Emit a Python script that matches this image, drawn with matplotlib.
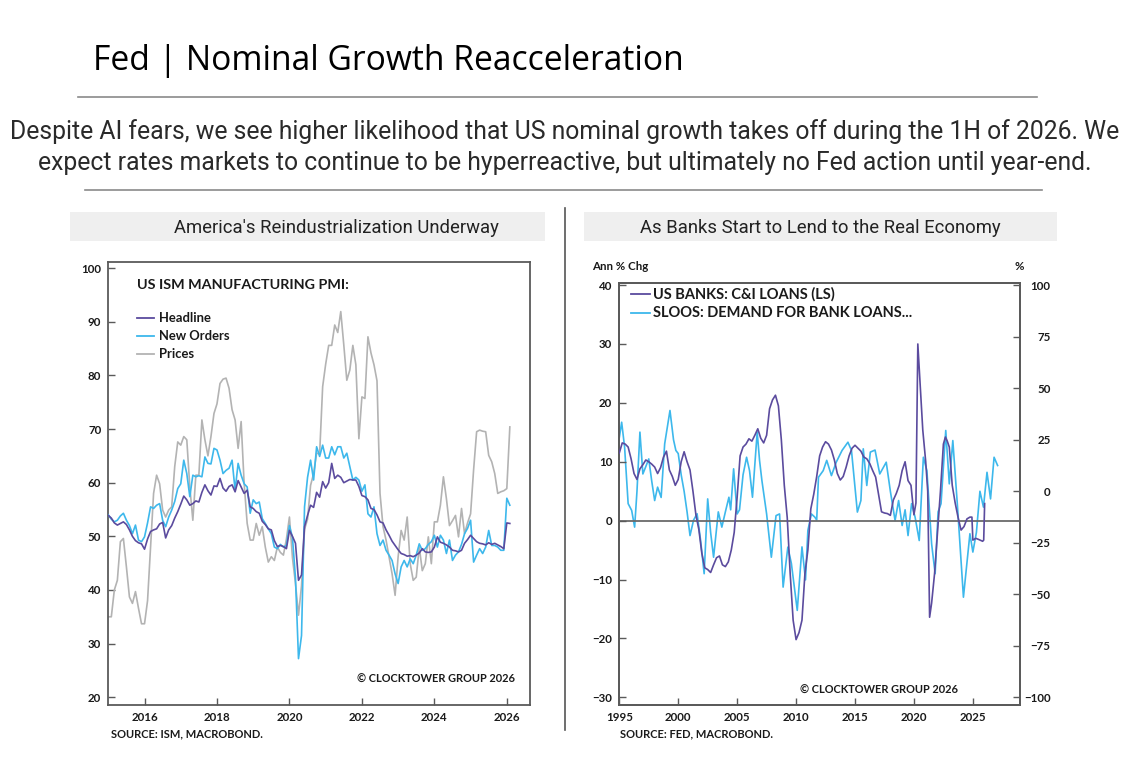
import numpy as np
import matplotlib
matplotlib.use("Agg")
import matplotlib.pyplot as plt
from matplotlib.lines import Line2D
from matplotlib.patches import Rectangle

# ---------------- DATA ----------------
# Left chart: US ISM Manufacturing PMI, monthly Jan 2015 - Feb 2026
ism_start_year = 2015
headline = [
    53.9, 53.4, 52.5, 52.1, 52.4, 52.7, 52.2, 51.2, 50.0, 49.2, 48.8, 48.6,   # 2015
    47.6, 49.5, 50.9, 51.2, 51.4, 52.3, 52.6, 49.7, 51.2, 52.0, 53.4, 54.6,   # 2016
    56.0, 57.5, 56.8, 55.8, 56.1, 56.6, 56.4, 58.2, 59.6, 58.5, 57.7, 59.4,   # 2017
    59.3, 60.8, 59.0, 58.4, 59.3, 59.6, 58.3, 60.4, 59.2, 58.0, 58.6, 55.5,   # 2018
    55.2, 54.6, 54.3, 52.8, 52.2, 51.4, 51.2, 49.2, 48.1, 48.3, 48.1, 47.7,   # 2019
    51.1, 50.0, 48.7, 41.8, 42.8, 51.8, 53.9, 55.8, 55.4, 58.2, 57.3, 60.2,   # 2020
    59.0, 60.0, 63.6, 60.8, 61.4, 61.0, 60.0, 60.3, 60.6, 60.5, 60.5, 59.3,   # 2021
    57.6, 57.4, 56.8, 55.2, 55.0, 54.0, 52.7, 52.5, 51.2, 50.2, 49.1, 48.3,   # 2022
    47.5, 46.8, 46.6, 46.3, 46.4, 46.2, 46.5, 46.9, 47.7, 47.1, 47.0, 47.1,   # 2023
    48.0, 49.9, 48.9, 48.7, 48.4, 48.0, 47.4, 47.3, 47.1, 47.4, 48.7, 49.4,   # 2024
    50.2, 49.6, 49.0, 48.7, 48.6, 48.4, 48.8, 48.5, 48.7, 48.4, 48.1, 47.7,   # 2025
    52.5, 52.4,                                                               # 2026
]
new_orders = [
    54.0, 53.2, 52.7, 53.0, 53.8, 54.3, 53.0, 52.0, 50.5, 52.1, 49.3, 49.0,
    49.9, 52.5, 55.5, 55.2, 55.8, 56.1, 53.0, 51.8, 53.6, 54.9, 56.5, 58.9,
    59.8, 64.2, 61.7, 57.4, 61.4, 61.1, 61.3, 61.1, 64.8, 63.6, 63.5, 66.4,
    66.1, 64.2, 61.7, 62.3, 62.7, 64.2, 58.6, 63.6, 61.4, 59.8, 59.2, 54.3,
    56.8, 56.1, 56.4, 53.3, 52.4, 51.4, 50.5, 48.0, 47.7, 48.5, 48.0, 48.3,
    52.0, 49.8, 42.2, 27.2, 31.5, 55.5, 61.0, 64.2, 60.5, 66.7, 64.9, 67.0,
    64.6, 64.6, 66.7, 65.2, 66.7, 66.7, 64.6, 65.5, 63.0, 60.5, 61.0, 60.5,
    58.4, 59.6, 54.2, 53.6, 55.5, 50.5, 48.3, 49.3, 47.4, 46.5, 45.5, 43.0,
    41.2, 44.3, 45.5, 44.3, 45.8, 44.9, 46.5, 48.6, 47.4, 47.7, 48.5, 49.0,
    50.2, 48.0, 50.2, 49.3, 46.8, 49.3, 45.5, 46.5, 47.1, 48.5, 50.5, 51.5,
    53.0, 45.2, 46.5, 47.7, 46.8, 48.0, 51.1, 48.3, 48.3, 48.0, 47.4, 47.4,
    57.1, 55.8,
]
prices = [
    35.0, 35.0, 40.0, 41.8, 49.0, 49.6, 44.3, 38.7, 37.5, 39.7, 36.6, 33.7,
    33.7, 38.0, 48.0, 58.0, 61.4, 59.8, 54.9, 53.6, 54.9, 55.5, 63.0, 67.6,
    67.0, 68.6, 68.0, 59.2, 53.0, 61.4, 61.4, 71.7, 68.0, 65.0, 68.6, 72.9,
    74.7, 78.5, 79.3, 79.5, 77.6, 73.6, 71.7, 66.4, 71.4, 59.8, 52.4, 49.3,
    49.3, 52.4, 50.2, 51.8, 48.0, 45.2, 46.2, 45.5, 48.0, 47.0, 46.5, 49.5,
    53.6, 46.0, 41.2, 35.3, 40.8, 51.3, 53.2, 59.5, 61.7, 65.5, 65.4, 77.9,
    82.1, 85.6, 85.6, 89.4, 88.0, 91.9, 85.7, 79.1, 81.0, 85.6, 82.0, 68.2,
    76.0, 75.7, 87.2, 84.2, 82.0, 79.0, 58.0, 51.8, 49.3, 46.2, 43.0, 39.0,
    46.2, 51.1, 49.3, 53.6, 44.9, 41.8, 42.4, 48.0, 43.6, 44.9, 49.9, 44.9,
    52.7, 52.7, 55.8, 61.1, 57.0, 52.0, 52.9, 53.9, 49.9, 55.2, 50.5, 52.5,
    54.2, 62.4, 69.5, 69.8, 69.6, 69.5, 65.1, 63.9, 61.7, 58.0, 58.3, 58.5,
    58.9, 70.4,
]
ism_labels = ["Headline", "New Orders", "Prices"]
ism_xticks = [2016, 2018, 2020, 2022, 2024, 2026]
ism_yticks = [20, 30, 40, 50, 60, 70, 80, 90, 100]

# Right chart: US banks C&I loans (ann % chg, LS) and SLOOS demand (% , RS)
ci_dates = [
    1995.0, 1995.25, 1995.5, 1995.75, 1996.0, 1996.25, 1996.5, 1996.75,
    1997.0, 1997.25, 1997.5, 1997.75, 1998.0, 1998.25, 1998.5, 1998.75,
    1999.0, 1999.25, 1999.5, 1999.75, 2000.0, 2000.25, 2000.5, 2000.75,
    2001.0, 2001.25, 2001.5, 2001.75, 2002.0, 2002.25, 2002.5, 2002.75,
    2003.0, 2003.25, 2003.5, 2003.75, 2004.0, 2004.25, 2004.5, 2004.75,
    2005.0, 2005.25, 2005.5, 2005.75, 2006.0, 2006.25, 2006.5, 2006.75,
    2007.0, 2007.25, 2007.5, 2007.75, 2008.0, 2008.25, 2008.5, 2008.75,
    2009.0, 2009.25, 2009.5, 2009.75, 2010.0, 2010.25, 2010.5, 2010.75,
    2011.0, 2011.25, 2011.5, 2011.75, 2012.0, 2012.25, 2012.5, 2012.75,
    2013.0, 2013.25, 2013.5, 2013.75, 2014.0, 2014.25, 2014.5, 2014.75,
    2015.0, 2015.25, 2015.5, 2015.75, 2016.0, 2016.25, 2016.5, 2016.75,
    2017.0, 2017.25, 2017.5, 2017.75, 2018.0, 2018.25, 2018.5, 2018.75,
    2019.0, 2019.25, 2019.5, 2019.75, 2020.0, 2020.17, 2020.33, 2020.5,
    2020.75, 2021.0, 2021.17, 2021.33, 2021.5, 2021.75, 2022.0, 2022.25,
    2022.5, 2022.67, 2022.83, 2023.0, 2023.25, 2023.5, 2023.75, 2024.0,
    2024.25, 2024.5, 2024.75, 2024.92, 2025.0, 2025.25, 2025.5, 2025.83,
    2025.92, 2026.0,
]
ci_loans = [
    11.5, 13.2, 13.0, 12.5, 10.5, 8.0, 7.0, 8.8,
    9.5, 10.3, 10.0, 9.6, 9.1, 8.0, 9.0, 10.8,
    11.8, 8.6, 7.5, 6.0, 7.0, 10.0, 11.7, 10.0,
    8.6, 5.0, 1.0, -1.5, -5.5, -8.0, -8.3, -8.8,
    -7.5, -6.3, -6.0, -7.5, -7.8, -7.0, -5.0, -2.0,
    4.0, 11.0, 12.5, 13.0, 13.9, 13.5, 14.5, 15.6,
    14.0, 13.2, 14.5, 19.0, 20.5, 21.3, 19.5, 13.7,
    6.0, 0.5, -9.0, -16.9, -20.2, -19.0, -16.9, -9.0,
    -5.0, 2.0, 4.5, 7.5, 11.0, 12.5, 13.4, 13.0,
    12.0, 10.3, 8.0, 6.9, 7.5, 9.1, 11.0, 12.3,
    12.8, 12.3, 11.8, 10.8, 10.5, 9.7, 8.5, 7.4,
    4.5, 1.5, 1.3, 1.2, 0.9, 3.5, 4.6, 6.0,
    8.5, 10.0, 6.8, 6.0, 1.0, 3.0, 30.0, 24.0,
    15.4, 10.0, 5.0, -16.4, -14.0, -9.0, -2.0, 5.0,
    13.0, 14.2, 13.5, 12.5, 6.0, 3.0, 0.5, -1.6,
    -1.0, 0.3, 0.6, 0.6, -3.3, -3.0, -3.2, -3.5,
    -3.3, 2.9,
]
sloos_dates = [
    1995.0, 1995.2, 1995.45, 1995.75, 1996.05, 1996.3, 1996.5, 1996.75,
    1997.0, 1997.25, 1997.5, 1997.75, 1998.0, 1998.25, 1998.55, 1998.85,
    1999.3, 1999.6, 1999.8, 2000.0, 2000.25, 2000.5, 2000.75, 2001.0,
    2001.3, 2001.6, 2001.9, 2002.2, 2002.5, 2002.75, 2003.0, 2003.4,
    2003.7, 2004.0, 2004.3, 2004.45, 2004.7, 2005.0, 2005.2, 2005.5,
    2005.8, 2006.05, 2006.3, 2006.7, 2006.9, 2007.1, 2007.5, 2007.9,
    2008.3, 2008.6, 2008.9, 2009.3, 2009.6, 2010.1, 2010.5, 2010.8,
    2011.0, 2011.3, 2011.6, 2011.75, 2011.9, 2012.3, 2012.6, 2013.0,
    2013.4, 2013.9, 2014.4, 2014.7, 2015.2, 2015.5, 2015.7, 2016.0,
    2016.3, 2016.7, 2017.1, 2017.65, 2018.0, 2018.4, 2018.7, 2019.0,
    2019.25, 2019.5, 2019.8, 2020.1, 2020.45, 2020.8, 2021.1, 2021.5,
    2021.8, 2022.05, 2022.3, 2022.7, 2023.0, 2023.3, 2023.7, 2024.2,
    2024.75, 2025.0, 2025.3, 2025.6, 2025.9, 2026.2, 2026.5, 2026.8,
    2027.1,
]
sloos_demand = [
    26.0, 33.5, 21.4, -6.0, -9.3, -17.4, 0.0, 28.7,
    8.4, 12.0, 15.7, 5.0, -4.5, 2.0, -3.0, 23.0,
    39.2, 25.0, 19.8, 18.3, 8.0, 0.0, -10.0, -21.5,
    -14.0, -10.9, -23.9, -40.0, -3.7, -20.0, -32.0, -10.0,
    -17.4, -10.0, -2.9, -9.0, 10.9, -11.0, -9.0, 8.0,
    16.5, 10.0, -2.9, 28.7, 15.0, 5.2, -11.0, -32.0,
    -11.8, -11.0, -46.5, -27.1, -35.0, -57.8, -27.0, -43.0,
    -19.0, -11.0, -12.6, -14.0, 6.8, 10.0, 15.0, 7.6,
    14.0, 19.8, 23.8, 19.8, -10.1, -4.5, 20.6, 2.8,
    19.0, 20.0, 8.4, 14.1, 0.0, -14.2, -4.5, -16.6,
    -9.0, -21.5, -6.0, -12.6, -23.9, 16.5, 10.0, -25.5,
    -40.0, -10.0, -6.0, 29.5, 3.6, 24.6, -7.7, -51.4,
    -20.6, -29.5, -20.0, 0.0, -7.7, 9.2, -3.7, 16.5,
    12.5,
]
bank_labels = ["US BANKS: C&I LOANS (LS)", "SLOOS: DEMAND FOR BANK LOANS..."]
bank_xticks = [1995, 2000, 2005, 2010, 2015, 2020, 2025]
bank_lticks = [-30, -20, -10, 0, 10, 20, 30, 40]
bank_rticks = [-100, -75, -50, -25, 0, 25, 50, 75, 100]

# ---------------- STYLE ----------------
W, H = 1135, 764
PURPLE = "#5b4b9e"
BLUE = "#3db8ec"
GREY = "#b3b3b3"
SPINE = "#5a5a5a"
TXT = "#1a1a1a"
BOLD_FONT = ["Lato", "DejaVu Sans"]

def fx(x):
    return x / W

def fy(y):
    return 1 - y / H

fig = plt.figure(figsize=(W / 100, H / 100), dpi=100)
fig.patch.set_facecolor("white")

# Header
fig.text(fx(93), fy(61), "Fed | Nominal Growth Reacceleration", family=["Open Sans", "DejaVu Sans"],
         fontsize=24.2, color="black", ha="left", va="center")
fig.add_artist(Line2D([fx(78), fx(1037)], [fy(97), fy(97)], color="#8a8a8a", lw=1.2))
fig.text(fx(565), fy(132),
         "Despite AI fears, we see higher likelihood that US nominal growth takes off during the 1H of 2026. We",
         family=["Roboto", "DejaVu Sans"], fontsize=17.8, color="#2a2a2a", ha="center", va="center")
fig.text(fx(565), fy(163),
         "expect rates markets to continue to be hyperreactive, but ultimately no Fed action until year-end.",
         family=["Roboto", "DejaVu Sans"], fontsize=17.8, color="#2a2a2a", ha="center", va="center")
fig.add_artist(Line2D([fx(85), fx(1042)], [fy(190), fy(190)], color="#8a8a8a", lw=1.2))

# Panel headers
for (x0, x1, tx, label) in [(70, 545, 336, "America's Reindustrialization Underway"),
                            (584, 1057, 820, "As Banks Start to Lend to the Real Economy")]:
    fig.add_artist(Rectangle((fx(x0), fy(241)), fx(x1 - x0), (241 - 212) / H,
                             facecolor="#efefef", edgecolor="none", transform=fig.transFigure))
    fig.text(fx(tx), fy(228), label, family=["Roboto", "DejaVu Sans"], fontsize=13.3,
             color="#222222", ha="center", va="center")
fig.add_artist(Line2D([fx(565), fx(565)], [fy(208), fy(730)], color="#555555", lw=1.2))


def style_axes(ax):
    for s in ax.spines.values():
        s.set_color(SPINE)
        s.set_linewidth(1.3)
    ax.tick_params(direction="in", length=5, width=1, color=SPINE, labelsize=8.3,
                   labelcolor=TXT, pad=5)
    for lab in ax.get_xticklabels() + ax.get_yticklabels():
        lab.set_fontweight("bold")
        lab.set_family(BOLD_FONT)


# ---------------- LEFT CHART ----------------
ax1 = fig.add_axes([fx(108.3), fy(705.3), fx(530 - 108.3), (705.3 - 261.7) / H])
months = ism_start_year + np.arange(len(headline)) / 12.0
ax1.plot(months, prices, color=GREY, lw=1.2, zorder=2)
ax1.plot(months, new_orders, color=BLUE, lw=1.2, zorder=3)
ax1.plot(months, headline, color=PURPLE, lw=1.2, zorder=4)
ax1.set_xlim(2015.0, 2026.64)
ax1.set_ylim(18.5, 101.2)
ax1.set_xticks(ism_xticks)
ax1.set_yticks(ism_yticks)
style_axes(ax1)

fig.text(fx(137), fy(285), "US ISM MANUFACTURING PMI:", family=BOLD_FONT, fontweight="bold",
         fontsize=10.4, color=TXT, ha="left", va="center")
for i, (lab, col) in enumerate(zip(ism_labels, [PURPLE, BLUE, GREY])):
    yy = 318 + i * 18
    fig.add_artist(Line2D([fx(137), fx(154)], [fy(yy), fy(yy)], color=col, lw=1.3))
    fig.text(fx(159), fy(yy), lab, family=BOLD_FONT, fontweight="bold", fontsize=9.4,
             color=TXT, ha="left", va="center")
fig.text(fx(515), fy(679), "© CLOCKTOWER GROUP 2026", family=BOLD_FONT, fontweight="bold",
         fontsize=7.9, color=TXT, ha="right", va="center")
fig.text(fx(111), fy(734), "SOURCE: ISM, MACROBOND.", family=BOLD_FONT, fontweight="bold",
         fontsize=8.0, color=TXT, ha="left", va="center")

# ---------------- RIGHT CHART ----------------
ax2 = fig.add_axes([fx(619.3), fy(705), fx(1020 - 619.3), (705 - 283.3) / H])
ax2r = ax2.twinx()
ax2.set_zorder(ax2r.get_zorder() + 1)
ax2.patch.set_visible(False)
ax2r.plot(sloos_dates, sloos_demand, color=BLUE, lw=1.2)
ax2.axhline(0, color="#6a6a6a", lw=1.3, zorder=1)
ax2.plot(ci_dates, ci_loans, color=PURPLE, lw=1.2, zorder=3)
ax2.set_xlim(1995, 2029)
ax2.set_ylim(-31.3, 40.3)
ax2r.set_ylim(-103.7, 100.9)
ax2.set_xticks(bank_xticks)
ax2.set_yticks(bank_lticks)
ax2r.set_yticks(bank_rticks)
style_axes(ax2)
style_axes(ax2r)
ax2r.tick_params(axis="y", pad=22)
for lab in ax2r.get_yticklabels():
    lab.set_horizontalalignment("right")

fig.text(fx(592), fy(267), "Ann % Chg", family=BOLD_FONT, fontweight="bold", fontsize=8.3,
         color=TXT, ha="left", va="center")
fig.text(fx(1019), fy(267), "%", family=BOLD_FONT, fontweight="bold", fontsize=8.3,
         color=TXT, ha="center", va="center")
for i, (lab, col) in enumerate(zip(bank_labels, [PURPLE, BLUE])):
    yy = 294 + i * 19
    fig.add_artist(Line2D([fx(631), fx(650)], [fy(yy), fy(yy)], color=col, lw=1.3))
    fig.text(fx(653), fy(yy), lab, family=BOLD_FONT, fontweight="bold", fontsize=10.5,
             color=TXT, ha="left", va="center")
fig.text(fx(958), fy(690), "© CLOCKTOWER GROUP 2026", family=BOLD_FONT, fontweight="bold",
         fontsize=7.9, color=TXT, ha="right", va="center")
fig.text(fx(620), fy(734), "SOURCE: FED, MACROBOND.", family=BOLD_FONT, fontweight="bold",
         fontsize=8.0, color=TXT, ha="left", va="center")

fig.savefig("out.png", dpi=100, facecolor="white")
